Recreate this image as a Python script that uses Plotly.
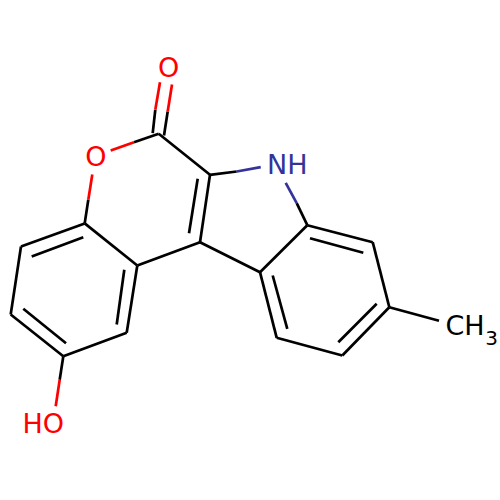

import plotly.graph_objects as go

# Colours per element
BLACK = "#000000"
OXYGEN = "#ff0000"
NITROGEN = "#33339a"

# Bond segments, one list per colour: x0, y0, x1, y1
carbon_bonds = [
    # phenol ring
    (84.7, 222.9, 21.0, 246.0),
    (21.0, 246.0, 10.7, 314.0),
    (10.7, 314.0, 63.3, 355.7),
    (63.3, 355.7, 126.7, 332.3),
    (126.7, 332.3, 137.3, 265.0),
    (137.3, 265.0, 84.7, 222.9),
    (31.7, 256.0, 83.3, 236.7),
    (23.3, 308.3, 66.0, 342.7),
    (116.7, 324.0, 124.3, 269.3),
    # lactone and pyrrole rings
    (137.3, 265.0, 200.0, 241.7),
    (200.0, 241.7, 210.0, 174.3),
    (189.0, 232.7, 197.7, 178.3),
    (210.0, 174.3, 158.7, 133.3),
    (200.0, 241.7, 260.0, 271.7),
    # methyl benzene ring
    (260.0, 271.7, 307.3, 224.7),
    (307.3, 224.7, 372.7, 241.7),
    (372.7, 241.7, 389.3, 306.7),
    (389.3, 306.7, 342.3, 355.0),
    (342.3, 355.0, 276.7, 337.3),
    (276.7, 337.3, 260.0, 271.7),
    (310.0, 237.7, 363.3, 252.3),
    (376.7, 303.3, 338.3, 341.7),
    (272.7, 275.0, 287.3, 328.3),
    (389.3, 306.7, 439.0, 320.3),
    # black halves of heteroatom bonds
    (152.7, 132.7, 155.3, 109.3),
    (164.0, 135.0, 167.7, 111.0),
    (158.7, 133.3, 134.0, 141.7),
    (84.7, 222.9, 88.3, 199.3),
    (63.3, 355.7, 59.7, 379.3),
    (210.0, 174.3, 236.7, 171.0),
    (307.3, 224.7, 296.7, 202.7),
]
oxygen_bonds = [
    (155.3, 109.3, 160.0, 81.7),
    (167.7, 111.0, 172.0, 84.0),
    (134.0, 141.7, 110.7, 150.0),
    (88.3, 199.3, 92.3, 174.0),
    (59.7, 379.3, 55.7, 405.7),
]
nitrogen_bonds = [
    (236.7, 171.0, 260.7, 166.7),
    (296.7, 202.7, 285.7, 182.3),
]

# Atom labels
label_text = ["O", "O", "HO", "NH", "CH", "3"]
label_x = [168.7, 96.0, 43.3, 287.3, 465.0, 491.7]
label_y = [69.5, 159.0, 425.5, 167.0, 328.0, 339.5]
label_size = [27, 27, 27, 27, 27, 20]
label_color = [OXYGEN, OXYGEN, OXYGEN, NITROGEN, BLACK, BLACK]


def _bond_trace(bonds, color):
    xs, ys = [], []
    for x0, y0, x1, y1 in bonds:
        xs += [x0, x1, None]
        ys += [y0, y1, None]
    return go.Scatter(x=xs, y=ys, mode="lines", line={"color": color, "width": 2.7}, hoverinfo="skip")


fig = go.Figure()
fig.add_trace(_bond_trace(carbon_bonds, BLACK))
fig.add_trace(_bond_trace(oxygen_bonds, OXYGEN))
fig.add_trace(_bond_trace(nitrogen_bonds, NITROGEN))
fig.add_trace(
    go.Scatter(
        x=label_x,
        y=label_y,
        mode="text",
        text=label_text,
        textposition="middle center",
        textfont={"family": "DejaVu Sans", "size": label_size, "color": label_color},
        hoverinfo="skip",
    )
)

fig.update_layout(
    width=500,
    height=500,
    margin={"t": 0, "b": 0, "l": 0, "r": 0},
    paper_bgcolor="#ffffff",
    plot_bgcolor="#ffffff",
    showlegend=False,
    xaxis={"range": [0, 500], "visible": False},
    yaxis={"range": [499.5, -0.5], "visible": False},
)

fig.write_html("out.html", config={"displayModeBar": False}, post_script="document.body.style.margin='0';")
